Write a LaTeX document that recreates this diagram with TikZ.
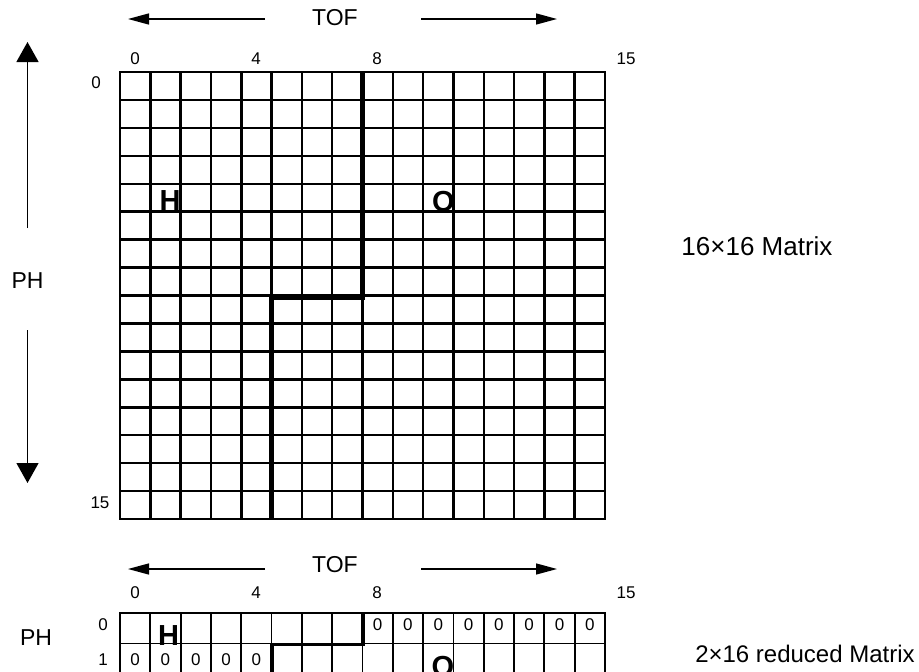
\documentclass[tikz,border=0pt]{standalone}
\usepackage{fontspec}
\setmainfont{Liberation Sans}
\usetikzlibrary{arrows.meta}
\newcommand\myfs[1]{\fontsize{#1}{#1}\selectfont}
\tikzset{
  lbl/.style={inner sep=0pt, font=\myfs{17}},
  zero/.style={inner sep=0pt, font=\myfs{17}},
  big/.style={inner sep=0pt, font=\myfs{23}},
  captext/.style={inner sep=0pt, font=\myfs{26}},
  elem/.style={inner sep=0pt, font=\bfseries\myfs{29}},
  gl/.style={line width=2.5pt, line cap=rect},
  glb/.style={line width=1.8pt, line cap=rect},
  bound/.style={line width=4.7pt, line join=miter},
  boundb/.style={line width=3.7pt, line join=miter},
  harr/.style={line width=1.3pt, -{Triangle[length=21pt,width=11pt]}},
  varr/.style={line width=1.3pt, -{Triangle[length=20pt,width=22pt]}},
}
\begin{document}
\begin{tikzpicture}[x=1pt,y=-1pt]
\useasboundingbox (0,0) rectangle (919,672);
\clip (0,0) rectangle (919,672);
% ---------- top 16x16 matrix ----------
\foreach \i in {0,...,16} \draw[gl] ({120+\i*30.3125},72) -- ({120+\i*30.3125},519);
\foreach \j in {0,...,16} \draw[gl] (120,{72+\j*27.9375}) -- (605,{72+\j*27.9375});
\coordinate (tb1) at (362.4,72);
\coordinate (tb2) at (362.4,298);
\coordinate (tb3) at (271.5,298);
\coordinate (tb4) at (271.5,519);
\draw[bound] (tb1) -- (tb2) -- (tb3) -- (tb4);
\node[big] (tof1) at (335,17.5) {TOF};
\coordinate (tl1) at (265,19); \coordinate (tl2) at (128,19);
\coordinate (tr1) at (421,19); \coordinate (tr2) at (557,19);
\draw[harr] (tl1) -- (tl2);
\draw[harr] (tr1) -- (tr2);
\node[lbl] (c0) at (135,59) {0};
\node[lbl] (c4) at (256,59) {4};
\node[lbl] (c8) at (377,59) {8};
\node[lbl] (c15) at (626,59) {15};
\node[lbl] (r0) at (96,83) {0};
\node[lbl] (r15) at (100,503) {15};
\node[big] (ph1) at (27.5,281) {PH};
\coordinate (pu1) at (27.5,228); \coordinate (pu2) at (27.5,42);
\coordinate (pd1) at (27.5,330); \coordinate (pd2) at (27.5,483);
\draw[varr] (pu1) -- (pu2);
\draw[varr] (pd1) -- (pd2);
\node[elem] (h1) at (170,201) {H};
\node[elem] (o1) at (443.5,202) {O};
\node[captext] (m1) at (757,246) {16×16 Matrix};
% ---------- bottom 2x16 matrix ----------
\foreach \i in {0,...,16} \draw[glb] ({120+\i*30.3125},613) -- ({120+\i*30.3125},674);
\foreach \j in {0,...,2} \draw[glb] (120,{613+\j*30.5}) -- (605,{613+\j*30.5});
\coordinate (bb1) at (363.3,613);
\coordinate (bb2) at (363.3,644.5);
\coordinate (bb3) at (271.7,644.5);
\coordinate (bb4) at (271.7,680);
\draw[boundb] (bb1) -- (bb2) -- (bb3) -- (bb4);
\node[big] (tof2) at (335,565) {TOF};
\coordinate (bl1) at (265,569); \coordinate (bl2) at (128,569);
\coordinate (br1) at (421,569); \coordinate (br2) at (557,569);
\draw[harr] (bl1) -- (bl2);
\draw[harr] (br1) -- (br2);
\node[lbl] (d0) at (135,593) {0};
\node[lbl] (d4) at (256,593) {4};
\node[lbl] (d8) at (377,593) {8};
\node[lbl] (d15) at (626,593) {15};
\node[lbl] (s0) at (103,625) {0};
\node[lbl] (s1) at (103,660) {1};
\node[big] (ph2) at (36,638) {PH};
\foreach \k in {8,...,15} \node[zero] (za\k) at ({120+(\k+0.5)*30.3125},625) {0};
\foreach \k in {0,...,4} \node[zero] (zb\k) at ({120+(\k+0.5)*30.3125},660) {0};
\node[elem] (h2) at (168.5,636) {H};
\node[elem] (o2) at (443,667) {O};
\node[captext, font=\myfs{24}] (m2) at (805,653.5) {2×16 reduced Matrix};
\end{tikzpicture}
\end{document}
